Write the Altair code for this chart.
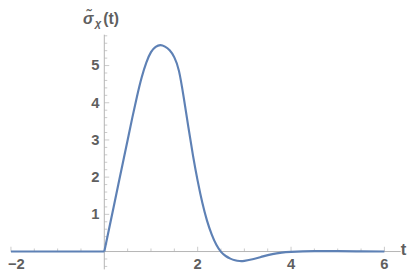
import altair as alt
import pandas as pd

# ---- data ----
flat_t = [-2.0, 0.0]
flat_v = [0.0, 0.0]

curve_t = [0.0, 0.1, 0.2, 0.3, 0.4, 0.5, 0.6, 0.7, 0.8, 0.9, 1.0, 1.1, 1.2,
           1.3, 1.4, 1.5, 1.6, 1.7, 1.8, 1.9, 2.0, 2.1, 2.2, 2.3, 2.4, 2.5,
           2.6, 2.7, 2.8, 2.9, 3.0, 3.2, 3.4, 3.6, 3.8, 4.0, 4.5, 5.0, 5.5, 6.0]
curve_v = [0.0, 0.6, 1.2, 1.8, 2.4, 3.0, 3.6, 4.17, 4.68, 5.08, 5.36, 5.50, 5.55,
           5.51, 5.41, 5.22, 4.85, 4.15, 3.35, 2.58, 1.9, 1.31, 0.83, 0.46, 0.18, -0.01,
           -0.12, -0.19, -0.235, -0.255, -0.25, -0.2, -0.13, -0.07, -0.03, -0.01, 0.01, 0.01, 0.005, 0.0]

x_major = [2, 4, 6]
x_major_labels = ["2", "4", "6"]
x_first = [-2]
x_first_label = ["\u22122"]
x_minor = [-1.5, -1.0, -0.5, 0.5, 1.0, 1.5, 2.5, 3.0, 3.5, 4.5, 5.0, 5.5]
x_major_ticks = [-2, 2, 4, 6]
y_major = [1, 2, 3, 4, 5]
y_major_labels = ["1", "2", "3", "4", "5"]
y_minor = [-0.4, -0.2, 0.2, 0.4, 0.6, 0.8, 1.2, 1.4, 1.6, 1.8, 2.2, 2.4, 2.6, 2.8,
           3.2, 3.4, 3.6, 3.8, 4.2, 4.4, 4.6, 4.8, 5.2, 5.4, 5.6, 5.8]
x_axis_range = [-2.0, 6.35]
y_axis_range = [-0.48, 5.83]

# ---- styling ----
W, H = 406, 264
AX = "#b4b4b4"
TXT = "#5f5f5f"
LINE = "#5e81b5"
FONT = "Liberation Sans"

xs = alt.Scale(domain=[-2.0632, 6.4842], nice=False, zero=False)
ys = alt.Scale(domain=[-0.4888, 6.486], nice=False, zero=False)


def X(f):
    return alt.X(f, type="quantitative", scale=xs, axis=None)


def Y(f):
    return alt.Y(f, type="quantitative", scale=ys, axis=None)


xaxis_df = pd.DataFrame({"a": [x_axis_range[0]], "b": [x_axis_range[1]], "z": [0.0]})
yaxis_df = pd.DataFrame({"a": [y_axis_range[0]], "b": [y_axis_range[1]], "z": [0.0]})

x_axis = alt.Chart(xaxis_df).mark_rule(color=AX, strokeWidth=1).encode(
    x=X("a"), x2="b", y=Y("z"))
y_axis = alt.Chart(yaxis_df).mark_rule(color=AX, strokeWidth=1).encode(
    y=Y("a"), y2="b", x=X("z"))

xminor_df = pd.DataFrame({"t": x_minor, "z": 0.0})
xmajor_df = pd.DataFrame({"t": x_major_ticks, "z": 0.0})
yminor_df = pd.DataFrame({"v": y_minor, "z": 0.0})
ymajor_df = pd.DataFrame({"v": y_major, "z": 0.0})

xt_minor = alt.Chart(xminor_df).mark_tick(orient="vertical", size=3, thickness=1,
                                          yOffset=-1.5, color=AX).encode(x=X("t"), y=Y("z"))
xt_major = alt.Chart(xmajor_df).mark_tick(orient="vertical", size=5, thickness=1,
                                          yOffset=-2.5, color=AX).encode(x=X("t"), y=Y("z"))
yt_minor = alt.Chart(yminor_df).mark_tick(orient="horizontal", size=3, thickness=1,
                                          xOffset=1.5, color=AX).encode(y=Y("v"), x=X("z"))
yt_major = alt.Chart(ymajor_df).mark_tick(orient="horizontal", size=5, thickness=1,
                                          xOffset=2.5, color=AX).encode(y=Y("v"), x=X("z"))

xlab_df = pd.DataFrame({"t": x_major, "lab": x_major_labels, "z": 0.0})
xfirst_df = pd.DataFrame({"t": x_first, "lab": x_first_label, "z": 0.0})
ylab_df = pd.DataFrame({"v": y_major, "lab": y_major_labels, "z": 0.0})

x_labels = alt.Chart(xlab_df).mark_text(font=FONT, fontSize=15, fontWeight="bold", color=TXT,
                                        align="center", baseline="middle", dy=12.5).encode(
    x=X("t"), y=Y("z"), text="lab:N")
x_first_lab = alt.Chart(xfirst_df).mark_text(font=FONT, fontSize=15, fontWeight="bold", color=TXT,
                                             align="left", baseline="middle", dy=12.5, dx=-3).encode(
    x=X("t"), y=Y("z"), text="lab:N")
y_labels = alt.Chart(ylab_df).mark_text(font=FONT, fontSize=15, fontWeight="bold", color=TXT,
                                        align="right", baseline="middle", dx=-5).encode(
    x=X("z"), y=Y("v"), text="lab:N")

tlab_df = pd.DataFrame({"t": [x_axis_range[1]], "z": [0.0], "lab": ["t"]})
t_label = alt.Chart(tlab_df).mark_text(font=FONT, fontSize=17, fontWeight="bold", color=TXT,
                                       align="left", baseline="middle", dx=0, dy=-1).encode(
    x=X("t"), y=Y("z"), text="lab:N")

title_df = pd.DataFrame({"z": [0.0], "top": [y_axis_range[1]],
                         "s": ["\u03c3\u0303"], "c": ["\u03c7"], "p": ["(t)"]})
title_sigma = alt.Chart(title_df).mark_text(font=FONT, fontSize=16, fontWeight="bold", fontStyle="italic",
                                            color=TXT, align="right", baseline="alphabetic",
                                            dx=-11, dy=-10.8).encode(x=X("z"), y=Y("top"), text="s:N")
title_chi = alt.Chart(title_df).mark_text(font=FONT, fontSize=11, fontWeight="bold", fontStyle="italic",
                                          color=TXT, align="right", baseline="alphabetic",
                                          dx=-3, dy=-8.3).encode(x=X("z"), y=Y("top"), text="c:N")
title_paren = alt.Chart(title_df).mark_text(font=FONT, fontSize=16, fontWeight="bold",
                                            color=TXT, align="left", baseline="alphabetic",
                                            dx=-1, dy=-10.8).encode(x=X("z"), y=Y("top"), text="p:N")

flat_df = pd.DataFrame({"t": flat_t, "v": flat_v})
curve_df = pd.DataFrame({"t": curve_t, "v": curve_v})
flat_line = alt.Chart(flat_df).mark_line(color=LINE, strokeWidth=2.2).encode(x=X("t"), y=Y("v"))
curve_line = alt.Chart(curve_df).mark_line(color=LINE, strokeWidth=2.2, interpolate="natural").encode(
    x=X("t"), y=Y("v"))

chart = alt.layer(
    x_axis, y_axis, xt_minor, xt_major, yt_minor, yt_major,
    x_labels, x_first_lab, y_labels, t_label,
    title_sigma, title_chi, title_paren,
    flat_line, curve_line,
).properties(
    width=W, height=H, autosize=alt.AutoSizeParams(type="none"), padding=0
).configure_view(stroke=None)

chart.save("out.html", embed_options={"renderer": "svg", "actions": False})
